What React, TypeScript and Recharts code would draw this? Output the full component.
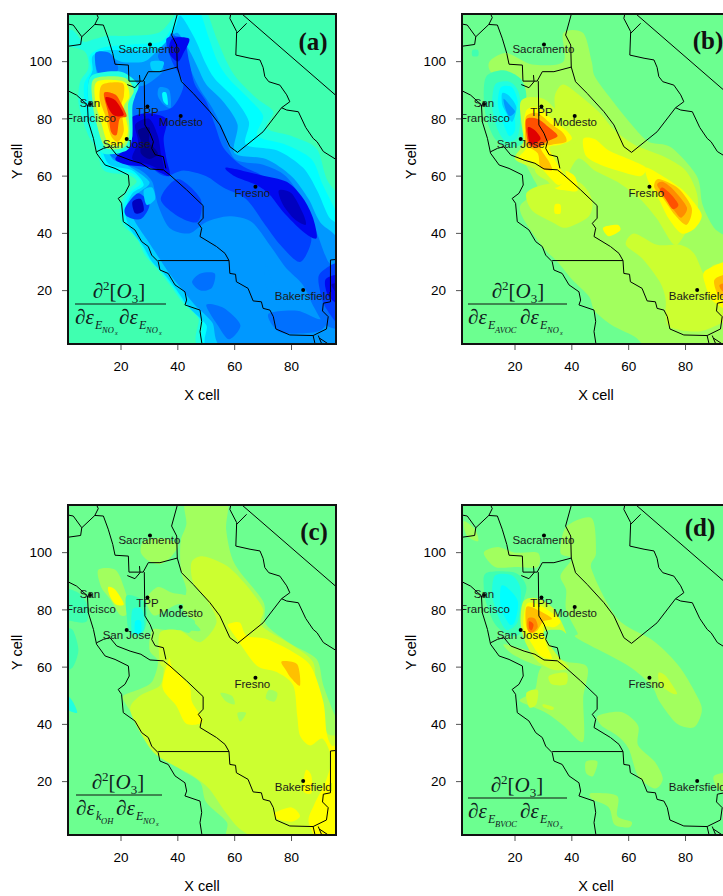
import React from 'react';
import { ScatterChart, Scatter, XAxis, YAxis } from 'recharts';

type Pt = number[];
type Band = [string, Pt[]];

const xTicks = [20, 40, 60, 80];
const yTicks = [20, 40, 60, 80, 100];

// contour colours
const BG_A = '#40FFB0';
const BG = '#6CFF90';
const AQUA = '#20FFE0';
const CYAN = '#00FFFF';
const SKY1 = '#00D0FF';
const SKY2 = '#0098FF';
const BLUE1 = '#0070FF';
const BLUE2 = '#0040FF';
const BLUE3 = '#0008F0';
const NAVY1 = '#0000C0';
const NAVY2 = '#000090';
const LIME1 = '#A2FF5E';
const LIME2 = '#CCFF30';
const YEL = '#FFFF00';
const AMB = '#FFC000';
const ORG = '#FF8C00';
const RED1 = '#FF5000';
const RED2 = '#E00000';

// county lines and coast, in grid cells
const northWest = [[10.8,118],[12,115.4],[10.8,113],[13.8,112.8],[15.5,108.2],[17.1,102.9],[17.9,99.1],[22.6,98.8],[22.8,93.2],[27.8,93.2],[29.6,96.5],[33.7,96.5],[39.8,98.1]];
const ridge = [[40.2,118],[37.8,109.3],[39.6,105.8],[39.8,98.1],[41.3,93],[45.4,88.9],[51.3,82.5],[54.8,77.9],[58.3,70.3],[61,68.3],[70,75.5],[76.5,83.9],[79.4,86],[78.3,88.4],[75.9,91.8],[72,93],[70.6,94.8],[70,98],[68.9,100.6],[65.4,101.2],[60.4,102.3],[60.7,110.5],[58.3,115.1],[58.9,118]];
const stateLine = [[62.4,116.8],[97,87]];
const stateSpur = [[64.2,113.4],[60.7,109.9]];
const east = [[76.5,83.9],[78.3,83.1],[82.4,82.5],[85,77],[87.6,73.2],[89,72],[91.2,68.6],[97,65]];
const cornerA = [[0,113.4],[3.2,112.8],[6.2,108.7],[10.8,113]];
const cornerB = [[6.2,108.7],[5.8,106],[0,105.2]];
const coast = [[0,90.5],[4.4,88.3],[8.2,84.9],[8.5,79],[10.3,73.2],[11.4,68],[14.4,63.9],[17.9,62.7],[22.6,60.4],[22.9,56.9],[21.4,54],[19,52.2],[20.2,50.5],[20.8,44.1],[24.9,41.2],[27.3,37.1],[29.6,35.4],[30.8,32.4],[33.1,30.1],[33.7,27.2],[36.6,26],[39,22],[42.5,19.6],[43.1,16.7],[42.5,15],[47.8,13.2],[48.4,9.2],[47.8,5.7],[48.7,0]];
const southEast = [[11.4,68.5],[13.8,69.7],[16.1,70.3],[18.5,67.4],[23.2,65.6],[27,64.5],[30.2,62.5],[34.9,62.2],[35.8,61.5],[37.2,60.4],[43.1,55.2],[48.9,49.7],[48.9,45.3],[47.2,43.5],[48.4,41.8],[47.8,38.9],[53.6,35.4],[56.6,33],[58,30.5],[58.3,26],[60.3,25.7],[60.6,23.1],[64.7,20.8],[66.5,16.4],[69.4,16.1],[70,13.8],[72.4,13.2],[73.6,10.9],[74.5,6.6],[79.4,4.5],[87.6,4.3],[92.3,6.6],[92.9,10.9],[90.9,12.9],[91.2,15.6],[93.7,16.1],[93.7,30.7],[97,31]];
const central = [[28.2,93.2],[28.4,77.9],[30.2,75],[31.4,72],[30.8,69.7],[32,67.5],[34.9,66.8],[35.8,62.7]];
const bayInlet = [[22.2,92],[24.9,90.9],[26.7,93],[26.5,95.3]];
const countySouth = [[33.1,30.5],[58,30.5]];
const tailA = [[87.6,4.3],[88.6,0]];
const tailB = [[89.4,4.3],[91.2,0]];
const tailC = [[90,3.3],[95,0]];
const borderLines = [northWest, ridge, stateLine, stateSpur, east, cornerA, cornerB, coast, southEast, central, bayInlet, countySouth, tailA, tailB, tailC];
const plotFrame = [[1,1],[96,1],[96,117],[1,117]];

const cityNames = ['Sacramento', 'San Francisco', 'San Jose', 'TPP', 'Modesto', 'Fresno', 'Bakersfield'];
const cityX = [30.2, 9.1, 22, 29.3, 41, 67.3, 84.1];
const cityY = [106, 85.2, 73, 84.3, 81, 56.3, 20.2];
const labelNames = ['Sacramento', 'San', 'Francisco', 'San Jose', 'TPP', 'Modesto', 'Fresno', 'Bakersfield'];
const labelX = [30, 9.1, 9.4, 22, 29.3, 41.1, 66.2, 84.1];
const labelY = [104.3, 85.7, 80.4, 71.2, 82.3, 78.9, 54.2, 18.2];

// panel (a): NOx x NOx
const a1 = [[40.7,119],[49,119],[53.6,108.2],[57.2,100],[60.7,94.2],[67.7,87.2],[73.6,82.5],[71.2,76.7],[80.6,73.8],[88.8,69.7],[92.3,59.2],[98,46.4],[98,-1],[50,-1],[47.2,10.3],[41.9,15.6],[37.2,22],[32.5,27.8],[28.4,32.4],[25.5,38.3],[20.8,42.9],[19.6,48.8],[22,54.6],[25.5,58],[22.6,60.4],[14,62],[11.4,69.7],[9,73.2],[6.7,79],[5,86],[5.6,93],[8.5,97.7],[7.3,103.5],[0,106],[-1,110],[3,111],[6.7,107],[11,108],[15,109],[22,109],[33,110],[38,115]];
const a2 = [[42,119],[47,119],[51,108],[54,100],[58,94],[65,87],[70,81],[68,74],[78,71],[87,66],[91,57],[96,47],[98,42],[98,-1],[52,-1],[48.5,9],[43,15],[38.5,21],[34,27],[30,31],[26.5,37],[22,42.5],[20.5,48],[23,54],[27,57.5],[24,61],[15,63],[12.5,69],[10,76],[7.5,84],[7,92],[9.5,97],[9,102],[14,105],[24,106],[34,107],[38.5,113]];
const a3 = [[41,116],[46,108],[49.5,100],[53,94],[60,87],[65,79],[64,71],[75,69],[84,63],[89,55],[93,46],[98,38],[98,-1],[53,-1],[50,8],[44,14],[39,21],[35,26],[31,30],[27.5,36],[23,42],[21.5,48],[24,54],[28,57],[24,62],[16,64],[13,70],[10.5,78],[8.5,86],[8.5,93],[10,97],[10,102],[15,104],[25,104],[35,105.5],[39,112]];
const a4 = [[40,110],[44,104],[47,98],[50,92],[56,86],[61,78],[60,68],[71,66],[80,60],[86,52],[90,44],[98,34],[98,-1],[58,-1],[52,9],[46,15],[41,21],[37,26],[33,32],[29,38],[25,44],[22.5,50],[26,54],[30,58],[22,64],[17,66],[15,72],[12,85],[12,93],[11,100],[14,103],[20,100],[28,100],[32,103],[37,108]];
const a5 = [[38,110],[42,104],[45,96],[48,90],[52,84],[56,76],[60,66],[70,64],[78,60],[85,50],[89,40],[93,30],[98,26],[98,8],[92,8],[88,14],[84,22],[78,28],[73,35],[66,44],[58,46],[50,44],[44,40],[37,42],[33,50],[31,58],[27,62],[20,65],[16,68],[22,72],[24,80],[23,90],[29,92],[35,97],[33,102],[36,106]];
const a5South1 = [[48,26],[53,26],[52,21],[48,20],[45,23]];
const a5South2 = [[50,15],[56,14],[62,8],[58,3],[54,8]];
const a5South3 = [[72,12],[82,13],[90,10],[94,12],[90,6],[78,5],[74,7]];
const a5South4 = [[71,30],[73,24],[78,17],[75,16],[71,22]];
const a5North = [[11,103],[16,103],[19,98],[17,95],[12,96]];
const a6Ridge = [[36,108],[42,108],[44,100],[46,92],[50,86],[53,78],[56,70],[62,64],[70,60],[78,54],[83,46],[87,38],[83,30],[76,36],[70,44],[64,52],[56,56],[50,60],[42,62],[36,60],[32,62],[27,68],[25,78],[30,82],[38,84],[42,92],[38,100]];
const a6Coast = [[21.5,49],[26,54],[30,50],[27,45],[22,46]];
const a6South = [[40,59],[48,52],[47,44],[40,46],[34,52]];
const a6Corner = [[90,26],[98,29],[98,8],[92,14],[90,20]];
const a7East = [[57,63],[68.9,60.4],[78.3,58],[84.1,52.2],[87.6,45.3],[88.8,38.3],[84.1,40.6],[77,47.6],[72.4,53.4],[67.7,56.9],[60,60]];
const a7North = [[38,108],[44,108],[42,103],[40,100],[37,103]];
const a7Center = [[23,80],[29,82],[36,80],[35,73],[36,66],[37,60],[30,63],[22,64],[18,66],[22,70],[24,74]];
const a7Corner = [[92,24],[98,25],[98,15],[93,18]];
const a8East = [[75.5,55],[80,54],[84,47],[85,43],[81,45],[77,50]];
const a8Center = [[25,78],[30,80],[33,74],[34,68],[35,62],[30,64],[24,66],[26,72]];
const a8Corner = [[94,22],[98,22],[98,17]];
const a8Coast = [[24,51],[27,52],[28,48],[25,47]];
const a9Center = [[26,76],[30,77],[30,72],[33,68],[30,66],[27,68],[27,72]];
const aLight1 = [[33.5,91],[37,90],[37.5,84],[35,85],[33,88]];
const aLight2 = [[30.5,100],[35,100],[34,97],[31,97]];
const aLight3 = [[28,55],[31,56],[32,52],[29,50]];
const aLight4 = [[34.5,89],[36,89],[36.5,85],[35,86]];
const aW1 = [[9.5,95],[20,96.5],[26,92],[25,88],[24,84],[24,74],[22,69],[13.5,68],[10,76],[8.5,86]];
const aW2 = [[10.5,94],[21,94.5],[24.5,90],[22.5,85],[23,75],[21,70],[14.5,70],[11.5,78],[10,86]];
const aW3 = [[11.5,93],[21,93],[23,88],[21,84],[22.5,76],[20.5,71],[15.5,71.5],[13,79],[11,86]];
const aW4 = [[13.5,92],[20.5,92.5],[21,88],[20,84],[21,76],[19,72],[16.5,74],[14.5,81],[12.5,87]];
const aW5 = [[14,89],[18,88.5],[20,85.5],[22,81],[19.5,80],[18.5,74.5],[16.5,75.5],[15.5,82]];
const aW6 = [[14.5,87.5],[18,86.5],[21,81.5],[18,81],[16,83]];
const panelA: Band[] = [
  [AQUA, a1], [CYAN, a2], [SKY1, a3], [SKY2, a4], [BLUE1, a5], [SKY2, a5South4],
  [BLUE1, a5South1], [BLUE1, a5South2], [BLUE1, a5South3], [BLUE1, a5North],
  [BLUE2, a6Ridge], [BLUE2, a6Coast], [BLUE2, a6South], [BLUE2, a6Corner],
  [BLUE3, a7East], [BLUE3, a7North], [BLUE3, a7Center], [BLUE3, a7Corner],
  [NAVY1, a8East], [NAVY1, a8Center], [NAVY1, a8Corner], [NAVY1, a8Coast], [NAVY2, a9Center],
  [SKY2, aLight1], [SKY1, aLight2], [SKY1, aLight3], [CYAN, aLight4],
  [AQUA, aW1], [LIME1, aW2], [YEL, aW3], [AMB, aW4], [RED1, aW5], [RED2, aW6],
];

// panel (b): AVOC x NOx
const b1 = [[37,110],[44,110],[47,100],[48,95],[53,88],[61,78],[67,72],[75,70],[84,60],[86,50],[90,42],[98,33],[98,-1],[70,-1],[62,4],[54,8],[48,13],[46,18],[40,24],[35,30],[30,35],[23,45],[22,50],[28,55],[26,60],[22,68],[23,75],[23,88],[20,95],[12,96],[11,100],[17,103],[26,99],[37,100]];
const b2a = [[37,92],[43,88],[50,82],[55,76],[62,71],[72,67],[80,62],[84,54],[84,46],[80,40],[76,36],[70,45],[64,52],[56,58],[48,62],[42,66],[36,56],[32,58],[27,62],[30,70],[34,80],[34,88]];
const b2b = [[59,36],[65,31],[71,23],[73,17],[73,11],[75,7],[86,6],[98,13],[98,28],[90,29],[87,25],[83,33],[78,36],[70,36],[62,40]];
const b2c = [[24,54],[30,57],[42,58],[47,52],[46,46],[38,42],[33,44],[26,48]];
const b3a = [[44,73],[48,73],[53,69],[60,66],[66,63],[64,60],[56,62],[50,64],[45,67]];
const b3b = [[66,63],[72,60],[78,56],[82,52],[85.7,46.4],[83.3,41.8],[78.6,40],[74,45.3],[70.5,52.2],[67,58]];
const b3c = [[34,56],[36,62],[41,60],[42,55],[38,55]];
const b3d = [[34,50],[36,50],[36,47],[34,47]];
const b3e = [[51,42],[56,43],[57,41],[53,39]];
const b4 = [[70.5,59],[77.5,55.7],[82.2,48.8],[80.4,43],[76.3,46.4],[72.2,52.2],[69,56]];
const b5 = [[72,58],[76,55],[80.5,49],[78.5,45.5],[76,48],[72.5,53],[70,57]];
const b6 = [[72,56],[75,53.5],[77.5,50],[75.5,48.5],[73,52],[71,55]];
const bCornerY = [[87,27],[98,30],[98,13],[90,16],[87,22]];
const bCornerO = [[90,23],[92,25],[98,26],[98,17],[92,18]];
const bCornerR = [[92,22],[98,23],[98,20],[94,19]];
const bCore1 = [[22,86],[30,87],[37,80],[42,73],[36,68],[38,60],[34,56],[28,62],[20,66],[23,72]];
const bCore2 = [[24,83],[28,84],[33,80],[38,76],[40,73],[36,71],[32,70],[35,64],[38,59],[35,57],[30,62],[26,65],[21,66],[24,70],[23,76]];
const bCore3 = [[24,81],[28,82],[33,78],[37,75],[38,72],[33,71],[29,70],[32,65],[33,62],[29,63],[28,68],[24,71],[23.5,76]];
const bCore4 = [[24,80],[28,80],[32,77],[35,74],[31,72],[28,70],[25,71],[24,75]];
const bCore5 = [[24.5,77],[27,76],[29,73],[26,71],[25,72]];
const bC1 = [[10,95],[16,97],[22,94],[24,88],[22,80],[23,72],[18,70],[13,73],[10,80],[9,88]];
const bC2 = [[13,92],[18,93],[21,90],[22,84],[21,74],[17,72],[14,76],[12,84]];
const bC3 = [[15,91],[19,91],[21,86],[20,82],[20,76],[18,74],[16,78],[14,85]];
const bC4 = [[15.5,89],[18,88],[20.5,84],[19,79],[17,82],[15.5,85]];
const bC5 = [[16,87],[18,85],[20,82.5],[18,81],[16.5,84]];
const bDot = [[5,104],[7,104],[7,102],[5,102]];
const panelB: Band[] = [
  [LIME1, b1], [LIME2, b2a], [LIME2, b2b], [LIME2, b2c], [YEL, b3a], [YEL, b3b], [YEL, b3c], [YEL, b3d], [YEL, b3e],
  [AMB, b4], [ORG, b5], [RED1, b6], [YEL, bCornerY], [AMB, bCornerO], [ORG, bCornerR],
  [BG_A, bDot], [BG_A, bC1], [AQUA, bC2], [CYAN, bC3], [SKY1, bC4], [SKY2, bC5],
  [LIME2, bCore1], [YEL, bCore2], [AMB, bCore3], [RED1, bCore4], [RED2, bCore5],
];

// panel (c): kOH x NOx
const c1 = [[43,119],[57,119],[57,108],[60,96],[70,83],[71,75],[80,68],[88.8,62.8],[91.2,53.6],[95.3,43],[98,38],[98,-1],[60,-1],[57.2,5.9],[50,12.8],[47.8,19.8],[40.7,24.5],[32.5,31.5],[26.7,39.6],[22,46.6],[20.8,50],[26.7,52.4],[31,55],[33,62],[30,66],[31,73],[36,73],[43,73],[48,73],[42,80],[43,87],[41,94],[41,104],[43,110]];
const c1Modesto = [[29,84],[33,88],[38,86],[43,85],[45,82],[40,82],[36,80],[32,78],[30,80]];
const c1Sac = [[28,104],[34,105],[40,103],[38,99],[34,96],[30,97],[27,100]];
const c1Bay = [[12,94],[18,94],[21,88],[23,80],[20,78],[16,84],[13,88]];
const c2 = [[44.8,96.6],[49,98.7],[57.2,95.4],[64.2,88.5],[70,80.3],[69.5,74.5],[80.6,67.5],[87.6,61.7],[88.8,51.3],[92.3,37.3],[98,32.6],[98,-1],[72,-1],[62.4,3],[57,9],[51,17.5],[45.4,22],[38.4,25.7],[31.4,30.3],[26.7,37.3],[23.2,45.5],[26.7,50],[33.7,53.6],[35,59.4],[33.7,61.7],[33.7,72],[40.7,72.8],[47.8,68.7],[53.6,75.7],[50,83.8],[45.4,89.6]];
const c2Gap1 = [[55,51],[59,50],[60,47],[57,48]];
const c2Gap2 = [[72,52],[75,51],[74,48],[71,49]];
const c2Gap3 = [[61,44],[64,44],[62,41]];
const c3 = [[57.7,75],[61.8,75.6],[64.2,71],[71.2,69.8],[80.6,65.2],[87,60],[91.2,47.8],[92.3,37.3],[94,32.7],[98,30],[98,-1],[90,-1],[86,6],[88,12],[92,20],[94,28],[91,35],[86.5,32.6],[83,36],[82,43],[80.6,53.6],[74.8,58.3],[67.7,60.6],[60.7,70],[58.3,73.4]];
const c3West = [[37,63],[38,60],[44,53.6],[45,47.8],[48.8,41],[43,40.2],[39.4,46.6],[34.6,53]];
const c3Bay = [[15.5,88],[18,87],[21,82],[18,82],[16,85]];
const c3Bak = [[85,24],[87,22],[87,16],[84,17]];
const c3South = [[74,9],[80,11],[83,8],[80,6],[75,7]];
const c4 = [[76.5,62],[82,61],[83,53.6],[80,56],[78,59]];
const cTeal = [[22,85],[28,83],[29,76],[27,71],[23,72],[22,78]];
const cAqua = [[24,80],[27.5,80],[28,73],[24,72]];
const cCyan = [[25,76],[27,76],[27,72],[25,72]];
const cWest = [[0,87],[5,86],[8,82],[8,76],[3,76],[0,78]];
const cWest2 = [[0,72],[3,73],[5,66],[3,60],[0,60]];
const cWest3 = [[0,51],[3,48],[4.5,44],[0,46]];
const cBand = [[37,80],[42,78],[46,76],[44,72],[40,74]];
const panelC: Band[] = [
  [LIME1, c1], [LIME1, c1Modesto], [LIME1, c1Sac], [LIME1, c1Bay], [LIME2, c2],
  [LIME1, c2Gap1], [LIME1, c2Gap2], [LIME1, c2Gap3], [YEL, c3], [YEL, c3West], [YEL, c3Bay], [YEL, c3Bak], [YEL, c3South],
  [AMB, c4], [BG, cBand], [BG_A, cTeal], [AQUA, cAqua], [CYAN, cCyan], [BG_A, cWest], [BG_A, cWest2], [AQUA, cWest3],
];

// panel (d): BVOC x NOx
const d1 = [[38,109],[47,112],[48.5,100],[47,94],[56,77],[69,69],[78,60],[84.5,49],[85.7,44.3],[83,39],[77,40.2],[71,47.7],[68,53.5],[59.8,60.5],[42,70],[42,72],[38,80],[38,87],[36,92],[40,98],[36,100]];
const d1North = [[9,100],[14,102],[20,100],[28,100],[28,95],[20,95],[13,95]];
const d1Corner = [[2,111],[6,108],[7,104],[3,106]];
const d1South = [[22.3,49],[27,52],[30,60.5],[45,60.5],[44,49],[44,34],[37,39.6],[31,44],[22.3,47.7]];
const d1Delta = [[16,68],[24,66],[30,64],[38,62],[41,60],[30,60],[20,64]];
const d1Mid = [[49.2,43],[57.4,44.3],[63.3,39.6],[63.3,32.7],[69.2,26.9],[72,21],[69.2,17.6],[63.3,22],[60,31.5],[56,36],[50.4,39.6]];
const d1Small = [[45,27],[49,27],[47.5,22],[45,23]];
const d1Low = [[47,16],[56,15],[56,8],[61,6],[60,4],[55,5],[53,11],[47,14]];
const d1Bak = [[90,22],[98,23],[98,17],[92,17]];
const d2Fresno = [[70.5,58],[73,57],[77,51],[75,51],[71,54]];
const d2a = [[32,57],[38,58],[38,54],[33,54]];
const d2b = [[24,51],[28,52],[27.5,47],[25,46]];
const d2c = [[30,47],[33.5,46],[33,45],[30,46]];
const d3 = [[23,83],[28,84],[34,80],[38,72],[36,73],[30,72],[35,64],[39,60],[34,59],[28,62],[24,68],[22,75]];
const d4 = [[24,82],[28,82],[33,79],[36,76],[34,74],[30,74],[31,68],[33,63],[29,64],[26,68],[23,74]];
const d5 = [[24,81],[28,80],[33,77],[30,76],[28,73],[26,72],[24,74]];
const d6 = [[24.5,77],[27,77],[28,74],[26,72],[24.5,73]];
const d7 = [[25,76],[26.5,75],[26,73],[25,73.5]];
const dC1 = [[10,93],[20,93],[24,88],[22,80],[22,72],[18,71],[13,75],[10,82],[9,88]];
const dC2 = [[13,92],[19,92],[22,87],[21,76],[17,73],[14,78],[12,85]];
const dC3 = [[15,88],[17,88],[21,83],[20,76],[18,75],[15,81]];
const panelD: Band[] = [
  [LIME1, d1], [LIME1, d1North], [LIME1, d1Corner], [LIME1, d1South], [LIME1, d1Delta], [LIME1, d1Mid], [LIME1, d1Small], [LIME1, d1Low], [LIME1, d1Bak],
  [LIME2, d2Fresno], [LIME2, d2a], [LIME2, d2b], [LIME2, d2c],
  [BG_A, dC1], [AQUA, dC2], [CYAN, dC3], [LIME2, d3], [YEL, d4], [AMB, d5], [ORG, d6], [RED1, d7],
];

const toXY = (pts: Pt[]) => pts.map(([x, y]) => ({ x, y }));
const cityRows = cityNames.map((name, i) => ({ name, x: cityX[i], y: cityY[i] }));
const labelRows = labelNames.map((name, i) => ({ name, x: labelX[i], y: labelY[i] }));

// closed curve that goes through every vertex, so contours keep their size
function closedContour(context: any) {
  let pts: number[][] = [];
  return {
    areaStart() {},
    areaEnd() {},
    lineStart() { pts = []; },
    point(x: number, y: number) { pts.push([+x, +y]); },
    lineEnd() {
      const n = pts.length;
      if (!n) return;
      context.moveTo(pts[0][0], pts[0][1]);
      for (let i = 0; i < n; i++) {
        const p0 = pts[(i + n - 1) % n];
        const p1 = pts[i];
        const p2 = pts[(i + 1) % n];
        const p3 = pts[(i + 2) % n];
        context.bezierCurveTo(
          p1[0] + (p2[0] - p0[0]) / 7, p1[1] + (p2[1] - p0[1]) / 7,
          p2[0] - (p3[0] - p1[0]) / 7, p2[1] - (p3[1] - p1[1]) / 7,
          p2[0], p2[1],
        );
      }
      context.closePath();
    },
  };
}

const SANS = '"Liberation Sans", Arial, sans-serif';
const SERIF = '"Liberation Serif", "Times New Roman", serif';
const NoMark = () => null;
const CityLabel = (p: any) => (
  <text x={p.cx} y={p.cy} dy={4} textAnchor="middle" fontFamily={SANS} fontSize={11.5} fill="#1a1a1a">
    {p.payload.name}
  </text>
);
const CityDot = (p: any) => <circle cx={p.cx} cy={p.cy} r={2} fill="#000" />;

function Panel({ left, top, bg, bands }: { left: number; top: number; bg: string; bands: Band[] }) {
  const tick = { fontFamily: SANS, fontSize: 13.5, fill: '#000' };
  return (
    <div style={{ position: 'absolute', left, top }}>
      <ScatterChart width={347} height={405} margin={{ top: 13, right: 10, bottom: 0, left: 0 }}>
        <XAxis
          type="number" dataKey="x" domain={[1, 96]} ticks={xTicks} allowDataOverflow height={60}
          tick={tick} tickSize={5} tickMargin={11} stroke="#555" axisLine={false}
          label={{ value: 'X cell', position: 'insideBottom', offset: 5, fontFamily: SANS, fontSize: 14.5, fill: '#000' }}
        />
        <YAxis
          type="number" dataKey="y" domain={[1, 117]} ticks={yTicks} allowDataOverflow width={67}
          tick={tick} tickSize={5} tickMargin={10} stroke="#555" axisLine={false}
          label={{ value: 'Y cell', angle: -90, position: 'insideLeft', offset: 17, fontFamily: SANS, fontSize: 14.5, fill: '#000' }}
        />
        <Scatter
          data={toXY([[-1, -1], [98, -1], [98, 119], [-1, 119]])} shape={NoMark} isAnimationActive={false}
          line={{ fill: bg, stroke: 'none' }} lineJointType="linearClosed"
        />
        {bands.map(([color, pts], i) => (
          <Scatter
            key={i} data={toXY(pts)} shape={NoMark} isAnimationActive={false}
            line={{ fill: color, stroke: 'none' }} lineJointType={closedContour as any}
          />
        ))}
        {borderLines.map((pts, i) => (
          <Scatter
            key={'b' + i} data={toXY(pts)} shape={NoMark} isAnimationActive={false}
            line={{ fill: 'none', stroke: '#000', strokeWidth: 1 }} lineJointType="linear"
          />
        ))}
        <Scatter data={cityRows} shape={CityDot} isAnimationActive={false} />
        <Scatter data={labelRows} shape={CityLabel} isAnimationActive={false} />
        <Scatter
          data={toXY(plotFrame)} shape={NoMark} isAnimationActive={false}
          line={{ fill: 'none', stroke: '#111', strokeWidth: 4 }} lineJointType="linearClosed"
        />
      </ScatterChart>
    </div>
  );
}

function Formula({ x0, x1, ruleY, numX, sub1, sub1Small, subGap }: { x0: number; x1: number; ruleY: number; numX: number; sub1: string; sub1Small: string; subGap: number }) {
  const mainFont = { fontFamily: SERIF, fontSize: 21, fontStyle: 'italic', fill: '#102020' } as const;
  const subFont = { fontFamily: SERIF, fontSize: 12, fontStyle: 'italic', fill: '#102020' } as const;
  const smallFont = { fontFamily: SERIF, fontSize: 8.5, fontStyle: 'italic', fill: '#102020' } as const;
  const base = ruleY + 20;
  const x2 = x0 + subGap;
  const isNox = sub1Small === 'NO';
  return (
    <g>
      <text x={numX} y={ruleY - 6} textAnchor="middle" {...mainFont}>
        ∂<tspan fontSize={13} dy={-8} fontStyle="normal">2</tspan>
        <tspan dy={8} fontStyle="normal">[</tspan>O<tspan fontSize={13} dy={5} fontStyle="normal">3</tspan>
        <tspan dy={-5} fontStyle="normal">]</tspan>
      </text>
      <line x1={x0} x2={x1} y1={ruleY} y2={ruleY} stroke="#111" strokeWidth={1} />
      <text x={x0} y={base} {...mainFont}>∂ε</text>
      <text x={x0 + 20} y={base + 5} {...subFont}>{sub1}</text>
      <text x={x0 + (sub1 === 'k' ? 25 : 27)} y={base + 9} {...smallFont}>{sub1Small}</text>
      {isNox && <text x={x0 + 40} y={base + 11} fontFamily={SERIF} fontSize={6} fontStyle="italic" fill="#102020">x</text>}
      <text x={x2} y={base} {...mainFont}>∂ε</text>
      <text x={x2 + 20} y={base + 5} {...subFont}>E</text>
      <text x={x2 + 27} y={base + 9} {...smallFont}>NO</text>
      <text x={x2 + 40} y={base + 11} fontFamily={SERIF} fontSize={6} fontStyle="italic" fill="#102020">x</text>
    </g>
  );
}

export default function App() {
  const letter = { fontFamily: SERIF, fontSize: 25, fontWeight: 700, fill: '#111', textAnchor: 'middle' } as const;
  return (
    <div style={{ position: 'absolute', left: 0, top: 0, width: 723, height: 896, overflow: 'hidden', background: '#fff' }}>
      <Panel left={0} top={0} bg={BG_A} bands={panelA} />
      <Panel left={394} top={0} bg={BG} bands={panelB} />
      <Panel left={0} top={490.5} bg={BG} bands={panelC} />
      <Panel left={394} top={491} bg={BG} bands={panelD} />
      <svg width={723} height={896} style={{ position: 'absolute', left: 0, top: 0, pointerEvents: 'none' }}>
        <text x={313} y={50} {...letter}>(a)</text>
        <text x={708} y={49} {...letter}>(b)</text>
        <text x={314} y={540} {...letter}>(c)</text>
        <text x={700} y={536} {...letter}>(d)</text>
        <Formula x0={75} x1={166} ruleY={304} numX={119} sub1="E" sub1Small="NO" subGap={44} />
        <Formula x0={468} x1={567} ruleY={304} numX={518} sub1="E" sub1Small="AVOC" subGap={52} />
        <Formula x0={76} x1={162} ruleY={795} numX={118} sub1="k" sub1Small="OH" subGap={40} />
        <Formula x0={468} x1={567} ruleY={798} numX={517} sub1="E" sub1Small="BVOC" subGap={52} />
      </svg>
    </div>
  );
}
